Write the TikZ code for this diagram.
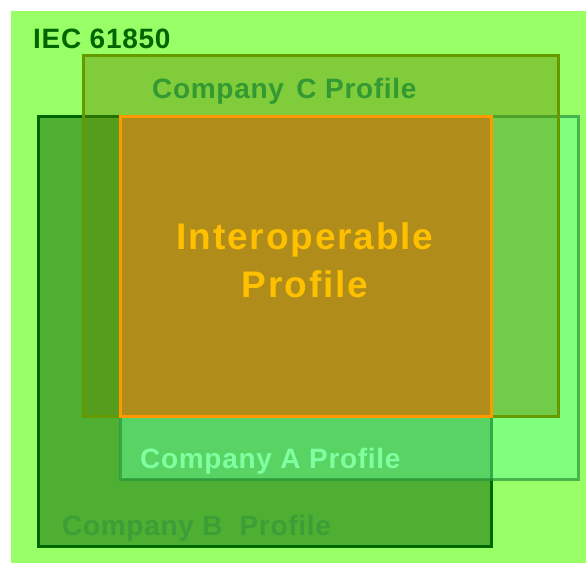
\documentclass[tikz,border=0pt]{standalone}
\usepackage{fontspec}
\setmainfont{Liberation Sans}
\newfontfamily\boxfont[LetterSpace=2.5]{Liberation Sans}
\newfontfamily\iopfont[LetterSpace=5]{Liberation Sans}
\usepackage{xcolor}
\definecolor{iecgreen}{RGB}{153,255,102}
\definecolor{iecdark}{RGB}{0,102,0}
\definecolor{compbfill}{RGB}{79,175,51}
\definecolor{compbtext}{RGB}{60,158,55}
\definecolor{compafill}{RGB}{99,255,158}
\definecolor{compaline}{RGB}{40,150,60}
\definecolor{compatext}{RGB}{128,255,160}
\definecolor{compcfill}{RGB}{94,134,0}
\definecolor{compcline}{RGB}{102,153,0}
\definecolor{compctext}{RGB}{51,153,51}
\definecolor{iopfill}{RGB}{176,140,26}
\definecolor{iopline}{RGB}{255,153,0}
\definecolor{ioptext}{RGB}{255,192,0}
\usepackage{tikz}
\usetikzlibrary{positioning}
\tikzset{
    profbox/.style   = {rectangle, inner sep=0pt, outer sep=0pt, anchor=north west,
                        line width=3pt},
    compbbox/.style  = {profbox, draw=iecdark, fill=compbfill},
    compabox/.style  = {profbox, draw=compaline, draw opacity=0.7,
                        fill=compafill, fill opacity=0.46},
    compcbox/.style  = {profbox, draw=compcline, fill=compcfill, fill opacity=0.42},
    iopbox/.style    = {profbox, draw=iopline, fill=iopfill},
    boxlabel/.style  = {anchor=base west, inner sep=0pt,
                        font=\boxfont\bfseries\fontsize{28pt}{28pt}\selectfont}
}

\begin{document}
\begin{tikzpicture}[x=1pt, y=-1pt]
\useasboundingbox (0,0) rectangle (586,563);
\fill[iecgreen] (11,11) rectangle (586,563);
\node[boxlabel, text=iecdark] (ieclabel) at (33,48) {IEC 61850};
% the three company profiles, then their common part on top
\node[compbbox, minimum width=453pt, minimum height=430pt] (compB) at (38,116) {};
\node[boxlabel, text=compbtext] (compBlabel) at (62,535) {Company B\ \ Profile};
\node[compabox, minimum width=458pt, minimum height=363pt] (compA) at (120,116) {};
\node[boxlabel, text=compatext] (compAlabel) at (140,468) {Company A Profile};
\node[compcbox, minimum width=475pt, minimum height=361pt] (compC) at (83,55) {};
\node[boxlabel, text=compctext] (compClabel) at (152,98) {Company\hspace{4pt} C Profile};
\node[iopbox, minimum width=371pt, minimum height=300pt] (iop) at (120,116) {};
\node[anchor=base, inner sep=0pt, align=center, text=ioptext,
      font=\iopfont\bfseries\fontsize{37pt}{48pt}\selectfont]
   (ioplabel) at (305,297) {Interoperable\\Profile};
\end{tikzpicture}
\end{document}
